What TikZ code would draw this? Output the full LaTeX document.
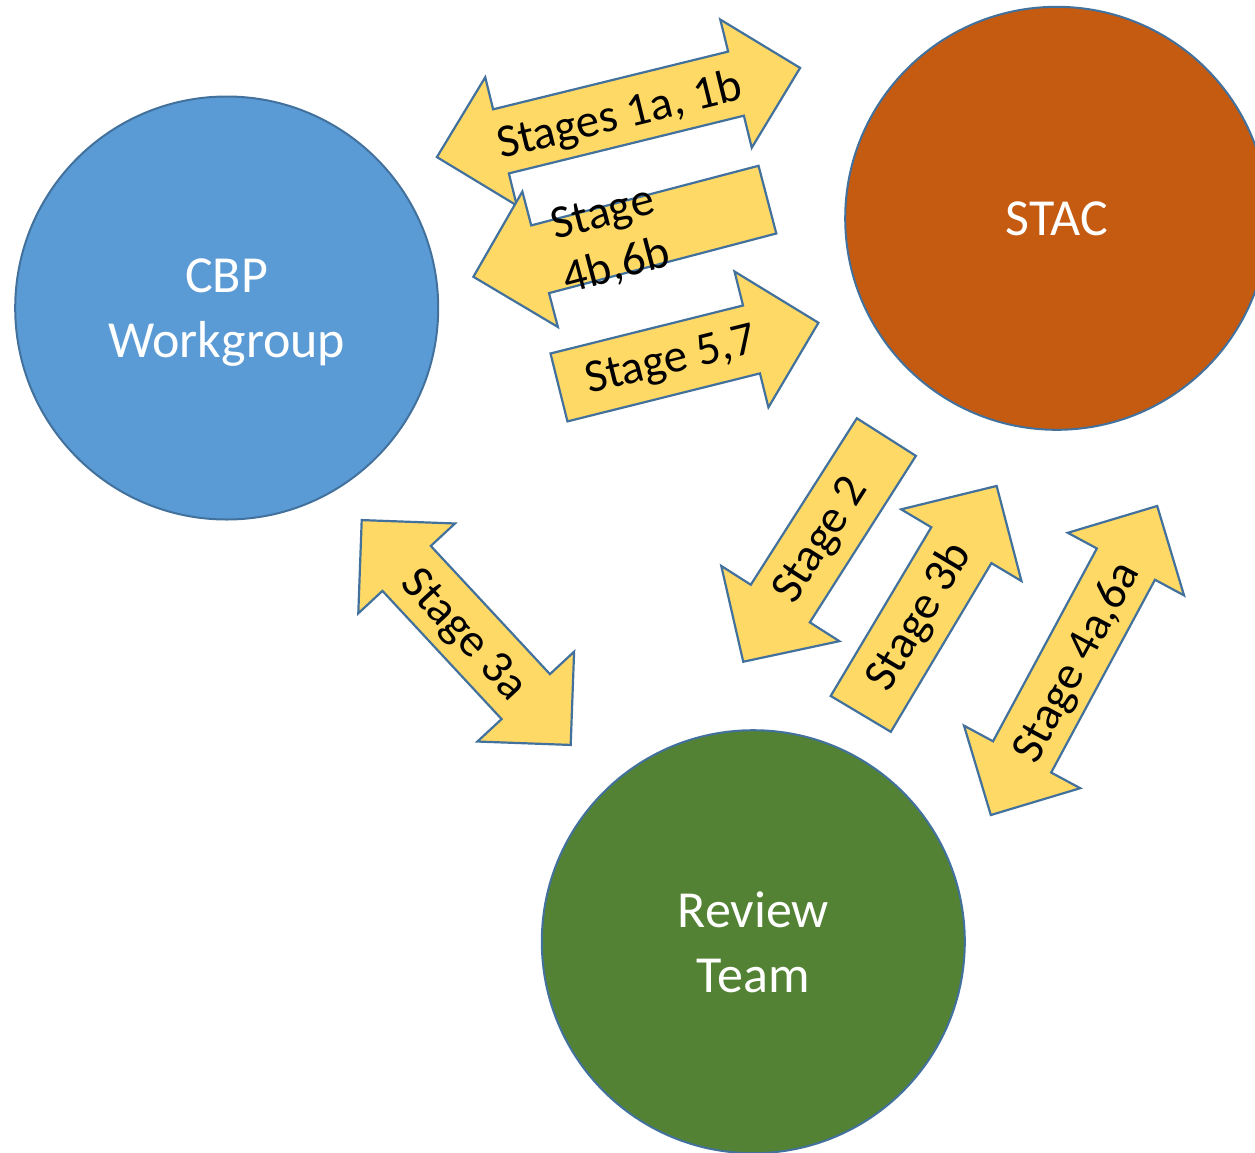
\documentclass[tikz,border=0pt]{standalone}
\usepackage{fontspec}
\setmainfont{Carlito}
\usepackage{xcolor}
\usepackage{tikz}

\definecolor{cbpblue}{HTML}{5B9BD5}
\definecolor{stacorange}{HTML}{C55A11}
\definecolor{reviewgreen}{HTML}{548235}
\definecolor{edgeblue}{HTML}{41719C}
\definecolor{arrowyellow}{HTML}{FFD966}

\tikzset{
	actor/.style={circle, draw=edgeblue, line width=2pt, minimum size=423pt, inner sep=0pt,
		text=white, text depth=0pt, align=center, font=\fontsize{52}{65}\selectfont},
	stagearrow/.style={fill=arrowyellow, draw=edgeblue, line width=2.2pt, line join=miter},
	stagelabel/.style={inner sep=0pt, align=center, font=\fontsize{47}{55}\selectfont}
}

\begin{document}
\begin{tikzpicture}[x=1pt, y=-1pt]

\useasboundingbox (0,0) rectangle (1255,1152);

\node[actor, fill=cbpblue]     (cbp)    at (226.7,308)   {CBP\\Workgroup};
\node[actor, fill=stacorange]  (stac)   at (1056.7,218.3) {STAC};
\node[actor, fill=reviewgreen] (review) at (753.3,941.7) {Review\\Team};

\def\sw{33} \def\hw{66} \def\hl{66}
\foreach \x/\y/\a/\len in {618.5/112.5/13.8/187, 466.2/632.5/-47.1/153.5, 1074/660.5/61.7/175.5}{

	\begin{scope}[shift={(\x,\y)}, rotate=\a]
		\draw[stagearrow] (-\len,0) -- (\hl-\len,-\hw) -- (\hl-\len,-\sw) -- (\len-\hl,-\sw) -- (\len-\hl,-\hw) -- (\len,0)
			-- (\len-\hl,\hw) -- (\len-\hl,\sw) -- (\hl-\len,\sw) -- (\hl-\len,\hw) -- cycle;
	\end{scope}

}

\def\sw{35} \def\hw{70} \def\hl{69}
\foreach \x/\y/\a/\len in {620.4/238.2/194.7/152, 688.7/355.1/14/133.7, 814.8/549.4/237.5/133.2, 928.7/599.9/59.2/132.7}{

	\begin{scope}[shift={(\x,\y)}, rotate=\a]
		\draw[stagearrow] (-\len,-\sw) -- (\len-\hl,-\sw) -- (\len-\hl,-\hw) -- (\len,0)
			-- (\len-\hl,\hw) -- (\len-\hl,\sw) -- (-\len,\sw) -- cycle;
	\end{scope}

}

\node[stagelabel, rotate=13.8]  (s1ab)  at (620,117)  {Stages 1a, 1b};
\node[stagelabel, rotate=14.7]  (s4b6b) at (610,241)  {Stage\\4b,6b};
\node[stagelabel, rotate=14]    (s57)   at (671,362)  {Stage 5,7};
\node[stagelabel, rotate=-47.1] (s3a)   at (463,636)  {Stage 3a};
\node[stagelabel, rotate=57.5]  (s2)    at (822,541)  {Stage 2};
\node[stagelabel, rotate=59.2]  (s3b)   at (920,617)  {Stage 3b};
\node[stagelabel, rotate=61.7]  (s4a6a) at (1078,663) {Stage 4a,6a};

\end{tikzpicture}
\end{document}
